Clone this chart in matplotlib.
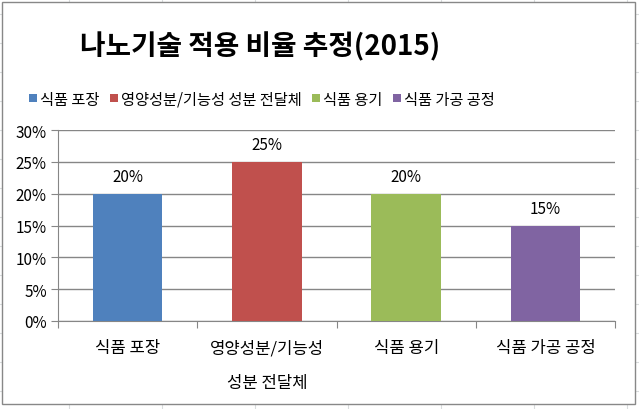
import matplotlib.pyplot as plt
from matplotlib.patches import Patch, Rectangle
from matplotlib.lines import Line2D
from matplotlib.ticker import PercentFormatter

plt.rcParams['font.family'] = ['Noto Sans CJK KR', 'DejaVu Sans']

title = "나노기술 적용 비율 추정(2015)"
categories = ["식품 포장", "영양성분/기능성 성분 전달체", "식품 용기", "식품 가공 공정"]
tick_labels = ["식품 포장", "영양성분/기능성\n성분 전달체", "식품 용기", "식품 가공 공정"]
values = [20, 25, 20, 15]
colors = ["#4F81BD", "#C0504D", "#9BBB59", "#8064A2"]

W, H = 639, 410
fig = plt.figure(figsize=(W / 100, H / 100), dpi=100)

# spreadsheet cells behind the chart
grid_c = "#dadcdd"
for x in range(69, W, 93):
    fig.add_artist(Line2D([x / W, x / W], [0, 1], color=grid_c, lw=0.8, zorder=0))
for y in range(15, H, 29):
    fig.add_artist(Line2D([0, 1], [1 - y / H, 1 - y / H], color=grid_c, lw=0.8, zorder=0))

# chart area
fig.add_artist(Rectangle((2 / W, 1 - 405 / H), 633 / W, 402 / H,
                         facecolor="white", edgecolor="#888888", lw=1.0, zorder=1))

ax = fig.add_axes([58 / W, 1 - 322 / H, 557 / W, 191 / H])
ax.set_zorder(3)
ax.patch.set_alpha(0)
x = range(len(values))
bars = ax.bar(x, values, width=0.5, color=colors, zorder=3)
ax.bar_label(bars, labels=[f"{v}%" for v in values], padding=6, fontsize=11)

ax.set_xlim(-0.5, len(values) - 0.5)
ax.set_ylim(0, 30)
ax.set_yticks(range(0, 31, 5))
ax.yaxis.set_major_formatter(PercentFormatter(decimals=0))
ax.grid(axis="y", color="#868686", lw=1.0, zorder=0)

ax.set_xticks([i - 0.5 for i in range(len(values) + 1)], minor=False)
ax.set_xticklabels([])
ax.set_xticks(list(x), minor=True)
ax.set_xticklabels(tick_labels, minor=True, fontsize=12, linespacing=2.35)
ax.tick_params(axis="x", which="major", length=5, color="#868686")
ax.tick_params(axis="x", which="minor", length=0, pad=13)
ax.tick_params(axis="y", length=5, color="#868686", labelsize=11, pad=3)

for s in ["top", "right"]:
    ax.spines[s].set_visible(False)
for s in ["left", "bottom"]:
    ax.spines[s].set_color("#868686")

t = fig.text(260 / W, 1 - 47 / H, title, ha="center", va="center",
             fontsize=20, fontweight="bold")
t.set_zorder(4)

handles = [Patch(facecolor=c, edgecolor="none") for c in colors]
leg = fig.legend(handles, categories, loc="center", bbox_to_anchor=(262 / W, 1 - 100 / H),
                 ncol=4, frameon=False, fontsize=11, handlelength=0.5, handleheight=0.5,
                 handletextpad=0.2, columnspacing=0.7)
leg.set_zorder(4)

fig.savefig("out.png", dpi=100)
